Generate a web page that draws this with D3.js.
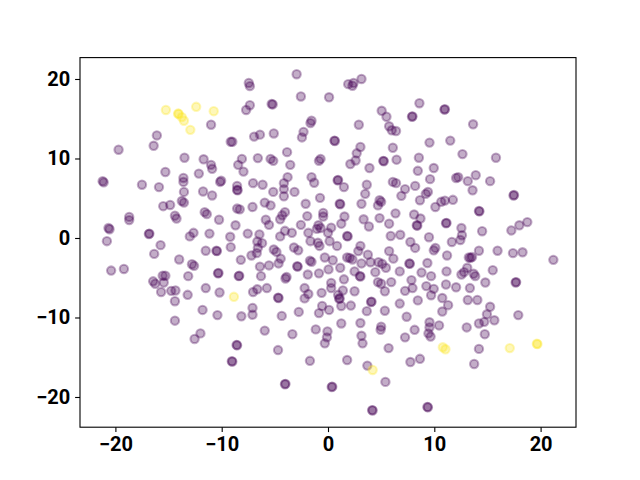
<!DOCTYPE html>
<html>
<head>
<meta charset="utf-8">
<script src="https://cdn.jsdelivr.net/npm/d3@7"></script>
<style>
  body { margin: 0; background: #fff; }
  .axis text { font-family: Roboto, "DejaVu Sans", sans-serif; font-weight: bold; font-size: 20px; fill: #000; }
  .axis path, .axis line { stroke: #000; stroke-width: 1.1; }
</style>
</head>
<body>
<div class="chart"></div>
<script>
// class 0 points (dark purple in the colour map)
const groupA = [
  [-16.1,12.9],[-16.4,11.6],[-19.7,11.1],[-13.5,10.1],[-11.7,9.9],[-15.3,8.3],[-13.6,7.55],[-13.6,7.05],[-12.15,8.1],[-21.2,7.15],[-21.1,7.0],[-17.5,6.7],[-15.9,6.4],[-11.0,14.25],
  [-2.95,20.6],[-7.45,19.5],[-7.35,19.1],[-2.55,17.8],[0.1,17.7],[-7.35,16.7],[-7.7,16.1],[-5.3,16.85],[-5.2,16.8],[-1.55,14.75],[-1.65,14.45],[-2.3,13.35],[-2.45,12.65],[-6.95,12.75],[-6.4,13.0],[-5.1,13.15],[-9.15,12.1],[-9.0,12.1],[-3.85,10.8],[0.6,12.25],[0.65,12.2],[-8.1,9.95],[-8.45,9.2],[-7.95,8.35],[-6.6,10.05],[-5.4,9.95],[-5.15,9.7],[-3.55,9.2],[-11.0,9.2],[-10.9,8.7],[-0.7,9.95],[-0.85,9.7],[-10.05,7.2],[-10.15,7.05],[-7.05,6.9],[-6.15,6.7],[-3.8,7.65],[-4.15,6.9],[-1.55,7.65],[-1.3,6.95],[-8.55,6.55],
  [3.15,20.0],[2.4,19.5],[1.9,19.35],[2.3,19.15],[8.6,16.95],[11.0,16.2],[10.95,16.15],[7.9,15.25],[7.95,15.3],[5.05,16.0],[5.5,15.25],[2.9,14.25],[5.75,14.05],[6.0,13.55],[6.4,13.45],[9.55,12.0],[11.5,12.25],[3.05,11.45],[2.7,10.65],[2.6,9.75],[2.1,9.3],[6.1,11.35],[6.45,9.85],[8.55,10.1],[5.2,9.7],[5.25,9.65],[3.9,8.8],[9.95,8.8],[8.45,8.45],[0.95,7.3],[0.9,7.25],[3.65,6.7],[6.1,7.05],[6.4,6.9],[8.2,6.55],[9.6,7.4],[12.05,7.55],[1.5,6.4],
  [13.65,14.3],[12.65,10.55],[15.8,10.1],[12.25,7.65],[13.15,7.15],[13.9,7.9],[15.25,7.15],
  [-13.55,5.8],[-13.75,4.65],[-13.55,4.45],[-11.75,5.85],[-15.5,4.0],[-14.85,4.15],[-11.6,3.25],[-11.4,3.0],[-20.65,1.25],[-20.55,1.1],[-18.7,2.65],[-18.7,2.25],[-14.4,2.8],[-14.25,2.45],[-16.8,0.55],[-16.85,0.5],[-12.65,0.65],[-13.0,0.2],[-20.8,-0.4],[-15.75,-0.9],[-16.35,-2.0],[-11.5,-1.6],[-14.0,-2.7],[-12.8,-3.3],[-12.6,-3.5],[-20.4,-4.1],[-19.2,-3.9],[-13.15,-4.8],[-15.55,-4.75],[-15.3,-4.75],[-15.45,-5.6],[-16.45,-5.45],[-16.25,-5.75],[-15.7,-6.8],[-14.75,-6.65],[-14.35,-6.6],[-11.5,-6.3],[-13.2,-7.15],[-14.4,-7.95],
  [-8.55,6.05],[-8.5,6.0],[-4.15,6.15],[-4.15,5.25],[-5.15,5.8],[-3.15,5.8],[-10.9,5.35],[-0.75,5.05],[-8.55,3.7],[-8.3,3.6],[-7.1,3.9],[-5.95,4.45],[-5.4,4.1],[-4.05,3.25],[-4.3,2.85],[-4.5,2.35],[-2.1,4.3],[-0.45,3.15],[-0.45,2.7],[-0.9,1.6],[-1.05,1.15],[-0.7,1.25],[-10.25,2.3],[-8.7,1.6],[-5.85,2.3],[-5.55,1.65],[-1.95,2.75],[-2.55,1.65],[-11.15,0.55],[-9.2,0.15],[-7.55,0.55],[-6.45,0.45],[-6.65,-0.45],[-6.2,-0.65],[-6.6,-1.25],[-4.5,0.2],[-4.05,0.9],[-3.4,0.65],[-1.85,0.65],[-1.65,-0.4],[-0.95,-0.6],[-0.8,-1.0],[0.0,0.65],[-10.45,-1.65],[-10.5,-1.6],[-9.15,-1.15],[-8.2,-2.75],[-7.2,-2.2],[-6.7,-1.9],[-5.1,-1.45],[-4.85,-1.75],[-4.45,-2.6],[-4.65,-3.2],[-3.2,-1.2],[-2.8,-1.55],[-1.7,-2.85],[-1.55,-3.0],[-0.3,-2.45],[-6.4,-3.6],[-5.55,-3.45],[-2.9,-3.55],[-2.85,-3.6],[-1.9,-4.6],[-0.85,-4.45],[0.05,-3.95],[-10.35,-4.45],[-10.3,-4.4],[-8.4,-4.8],[-8.35,-4.75],[-6.3,-4.8],[-3.9,-4.9],[-4.0,-5.1],[-10.2,-6.85],[-7.05,-6.8],[-6.65,-6.45],[-5.75,-6.3],[-4.7,-7.5],[-4.65,-7.55],[-2.2,-6.3],[-1.85,-7.05],[-2.2,-7.6],[-0.6,-6.9],[-7.1,-8.8],[-0.55,-8.55],
  [3.5,5.55],[7.25,6.15],[6.9,5.3],[9.2,5.55],[9.4,5.8],[8.65,4.75],[10.65,4.55],[11.0,4.7],[10.1,3.9],[11.75,4.8],[1.1,4.3],[1.15,4.25],[3.15,4.3],[4.85,4.75],[5.0,4.55],[4.7,4.1],[6.35,3.1],[8.1,2.95],[8.7,2.45],[8.35,1.6],[8.4,1.55],[11.15,1.9],[11.1,1.85],[1.55,2.7],[1.25,1.8],[0.3,1.3],
  [3.35,2.35],[4.85,2.5],[3.85,1.45],[5.75,1.8],[1.8,0.25],[1.85,0.2],[0.15,-0.4],[0.85,-1.0],[5.9,0.25],[6.8,0.4],[7.75,-0.5],[8.2,-1.25],[9.5,0.1],[11.65,-0.5],[3.05,-1.0],[2.85,-1.65],[2.05,-2.5],[1.8,-2.45],[2.3,-2.7],[3.75,-2.1],[5.75,-1.65],[6.15,-2.6],[10.1,-1.25],[9.95,-1.55],[11.2,-2.2],[0.45,-2.8],[4.0,-3.05],[3.15,-3.2],[4.75,-3.05],[5.1,-3.25],[7.7,-3.25],[7.65,-3.2],[9.35,-3.15],[1.15,-3.75],[2.5,-4.2],[4.45,-4.3],[5.45,-3.75],[6.75,-4.2],[8.8,-4.35],[9.7,-4.8],[11.15,-4.2],[3.0,-4.8],[3.05,-4.85],[1.5,-5.2],[7.85,-5.3],[4.7,-5.55],[5.0,-5.75],[5.35,-6.7],[5.95,-5.55],[0.3,-5.65],[0.3,-6.3],[0.95,-7.15],[1.4,-6.6],[2.5,-6.7],[7.25,-6.65],[7.95,-6.3],[9.25,-6.05],[9.95,-6.4],[9.7,-7.2],[11.1,-5.85],[12.05,-6.2],[1.05,-7.65],[1.1,-7.6],[10.75,-7.55],[8.45,-7.85],[4.05,-8.05],[4.1,-8.0],[6.75,-8.25],[1.25,-8.55],[11.3,-8.45],
  [13.6,6.0],[17.45,5.35],[17.5,5.4],[14.25,3.35],[14.2,3.4],[12.55,1.25],[12.6,0.35],[12.45,-0.25],[14.5,0.85],[17.25,0.95],[18.0,1.6],[18.75,2.0],[14.2,-1.6],[13.25,-2.45],[13.4,-2.5],[13.55,-2.4],[15.95,-1.6],[17.4,-1.9],[18.3,-1.8],[21.2,-2.75],[13.1,-3.75],[12.8,-4.3],[12.55,-4.6],[13.7,-4.5],[13.85,-4.8],[15.5,-4.05],[14.8,-5.6],[17.7,-5.55],[17.65,-5.6],[13.35,-6.3],[13.15,-7.8],[14.05,-7.8],[15.25,-8.65],
  [-11.8,-9.05],[-14.4,-10.4],[-12.0,-12.0],[-12.55,-12.7],
  [-10.4,-9.7],[-8.15,-9.85],[-7.1,-9.65],[-4.35,-9.8],[-2.75,-9.3],[-0.85,-9.45],[0.1,-9.05],[-5.95,-11.65],[-3.35,-12.1],[-1.15,-11.5],[-0.05,-11.75],[-0.1,-12.5],[-0.3,-13.25],[-8.55,-13.5],[-8.6,-13.45],[-4.7,-14.1],[-9.05,-15.5],[-9.0,-15.55],[-1.7,-15.45],[-4.05,-18.4],[-4.0,-18.35],[0.4,-18.7],[0.35,-18.75],
  [2.15,-8.5],[3.65,-9.2],[5.35,-9.15],[10.75,-9.25],[7.4,-9.9],[1.25,-10.75],[3.05,-10.7],[5.0,-11.15],[4.95,-11.55],[9.55,-10.6],[9.55,-11.25],[9.45,-12.0],[9.65,-12.4],[10.45,-11.0],[3.15,-12.3],[3.25,-13.25],[7.25,-12.5],[8.15,-11.55],[5.7,-13.85],[1.8,-15.35],[3.7,-16.05],[7.75,-15.6],[8.65,-15.2],[5.4,-18.1],[4.15,-21.65],[4.2,-21.7],[9.4,-21.3],[9.35,-21.25],
  [14.95,-9.6],[14.7,-10.55],[14.2,-10.75],[15.65,-10.35],[17.9,-9.7],[13.05,-11.25],[14.75,-12.1],[14.2,-13.95],[13.75,-15.85]
];

// class 1 points (yellow end of the colour map)
const groupB = [
  [-15.25,16.1],[-14.1,15.65],[-14.05,15.6],[-13.75,15.2],[-13.55,14.75],[-12.4,16.5],[-12.95,13.6],[-10.75,15.95],
  [-8.85,-7.4],[4.2,-16.6],[10.8,-13.75],[11.05,-14.0],[17.1,-13.85],[19.65,-13.3],[19.7,-13.35]
];

const xTicks = [-20, -10, 0, 10, 20];
const yTicks = [-20, -10, 0, 10, 20];

const margin = ({top: 57.6, right: 64, bottom: 52.8, left: 80});
const width = 640 - margin.left - margin.right,
      height = 480 - margin.top - margin.bottom;

const svg = d3.select('.chart').append('svg')
    .attr("width", 640)
    .attr("height", 480)
  .append("g")
    .attr("transform", "translate(" + margin.left + "," + margin.top + ")");

const xScale = d3.scaleLinear().domain([-23.33, 23.33]).range([0, width]);
const yScale = d3.scaleLinear().domain([-23.8, 22.69]).range([height, 0]);

const color = d3.scaleSequential(d3.interpolateViridis).domain([0, 1]);

const points = groupA.map(d => ({x: d[0], y: d[1], c: 0}))
  .concat(groupB.map(d => ({x: d[0], y: d[1], c: 1})));

svg.selectAll('circle')
  .data(points)
  .enter()
  .append("circle")
  .attr("cx", d => xScale(d.x))
  .attr("cy", d => yScale(d.y))
  .attr("r", 4.17)
  .style("fill", d => color(d.c))
  .style("fill-opacity", 0.32)
  .style("stroke", d => color(d.c))
  .style("stroke-opacity", 0.32)
  .style("stroke-width", 2.08);

// frame
svg.append("rect")
  .attr("width", width)
  .attr("height", height)
  .style("fill", "none")
  .style("stroke", "#000")
  .style("stroke-width", 1.1);

const xAxis = d3.axisBottom(xScale).tickValues(xTicks).tickSize(4.9).tickPadding(4.9);
const yAxis = d3.axisLeft(yScale).tickValues(yTicks).tickSize(4.9).tickPadding(4.9);

svg.append("g")
  .attr("class", "axis x-axis")
  .attr("transform", `translate(0, ${height})`)
  .call(xAxis)
  .call(g => g.select(".domain").remove());

svg.append("g")
  .attr("class", "axis y-axis")
  .call(yAxis)
  .call(g => g.select(".domain").remove());
</script>
</body>
</html>
